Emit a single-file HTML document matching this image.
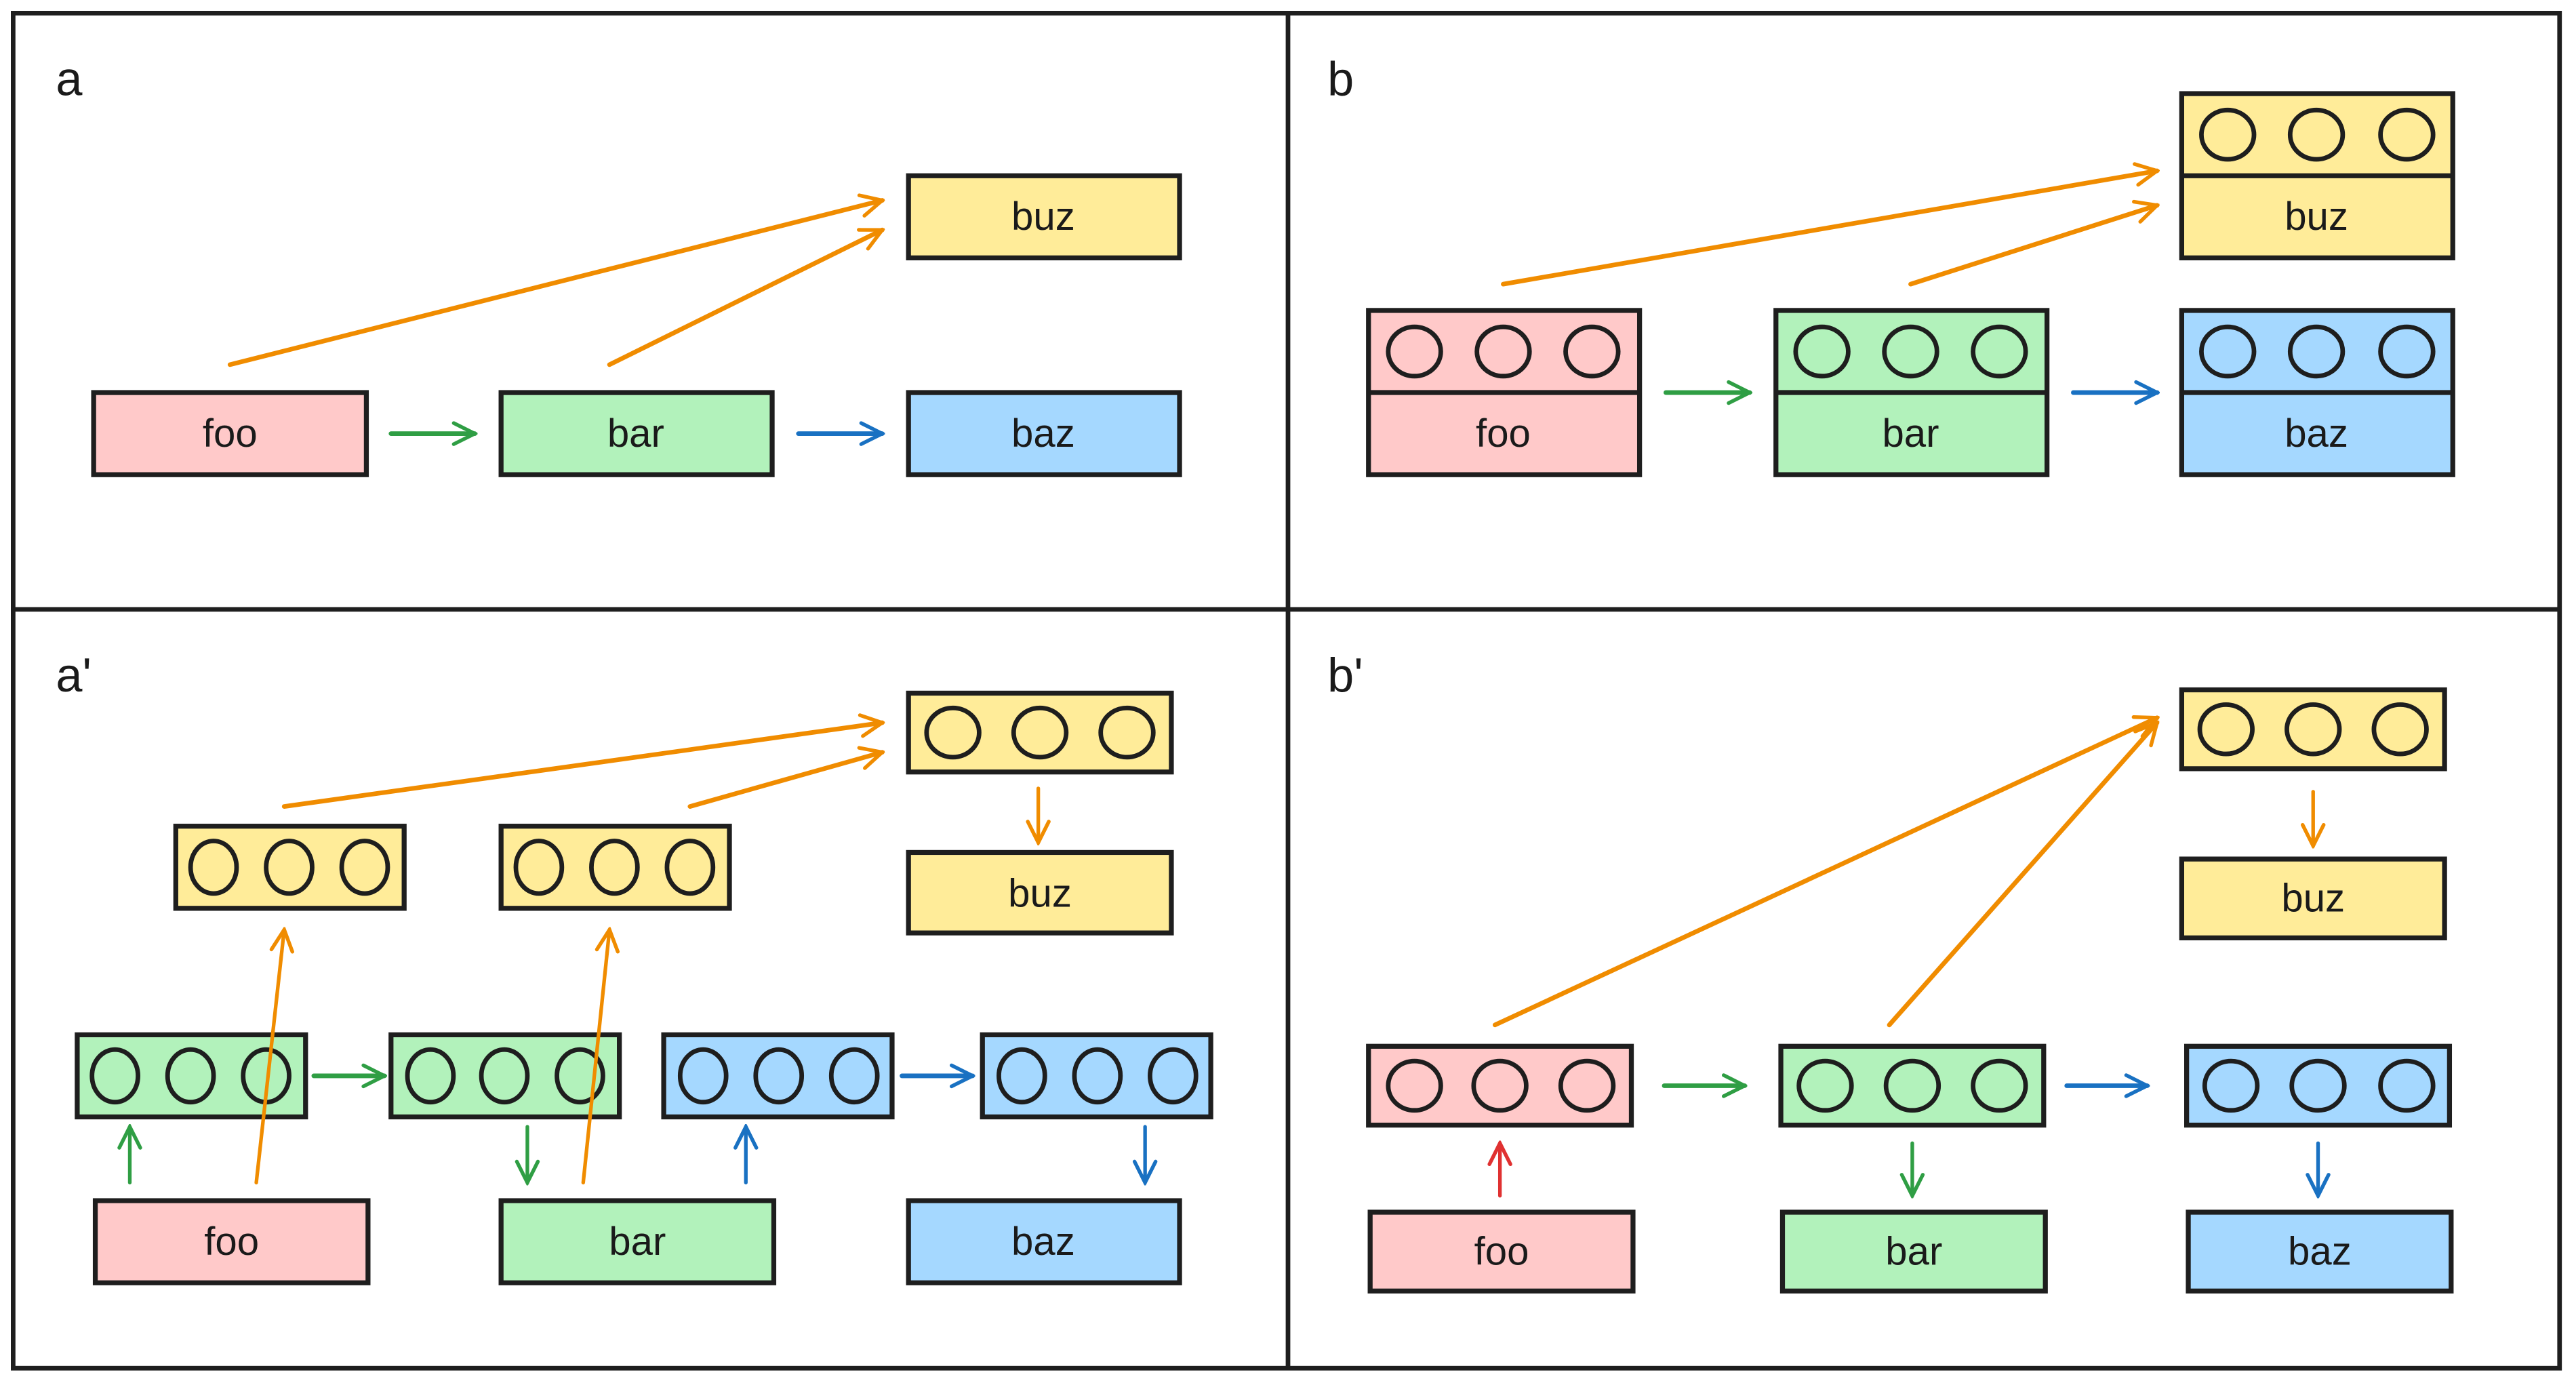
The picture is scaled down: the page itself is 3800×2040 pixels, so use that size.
<!DOCTYPE html>
<html><head><meta charset="utf-8"><style>
html,body{margin:0;padding:0;background:#fff;}
svg{display:block;}
text{font-family:"Liberation Sans","DejaVu Sans",sans-serif;fill:#1a1a1a;}
</style></head><body>
<svg width="3800" height="2040" viewBox="0 0 1568 842" preserveAspectRatio="none" xmlns="http://www.w3.org/2000/svg">
<defs>
<marker id="mo" viewBox="0 0 20 20" refX="18" refY="10" markerWidth="16" markerHeight="16" markerUnits="userSpaceOnUse" orient="auto"><path d="M2,2 L18,10 L2,18" fill="none" stroke="#f08c00" stroke-width="2.8" stroke-linecap="round"/></marker>
<marker id="mg" viewBox="0 0 20 20" refX="18" refY="10" markerWidth="16" markerHeight="16" markerUnits="userSpaceOnUse" orient="auto"><path d="M2,2 L18,10 L2,18" fill="none" stroke="#2f9e44" stroke-width="2.8" stroke-linecap="round"/></marker>
<marker id="mb" viewBox="0 0 20 20" refX="18" refY="10" markerWidth="16" markerHeight="16" markerUnits="userSpaceOnUse" orient="auto"><path d="M2,2 L18,10 L2,18" fill="none" stroke="#1971c2" stroke-width="2.8" stroke-linecap="round"/></marker>
<marker id="mr" viewBox="0 0 20 20" refX="18" refY="10" markerWidth="16" markerHeight="16" markerUnits="userSpaceOnUse" orient="auto"><path d="M2,2 L18,10 L2,18" fill="none" stroke="#e03131" stroke-width="2.8" stroke-linecap="round"/></marker>
</defs>
<rect width="1568" height="842" fill="#fff"/>
<g fill="none" stroke="#1e1e1e" stroke-width="2.8">
<rect x="8" y="8" width="1550" height="825"/>
<line x1="784" y1="8" x2="784" y2="833"/>
<line x1="8" y1="371" x2="1558" y2="371"/>
</g>
<g font-size="29"><text x="34" y="58">a</text><text x="808" y="58">b</text><text x="34" y="421">a'</text><text x="808" y="421">b'</text></g>

<g stroke="#1e1e1e" stroke-width="3">
<rect x="57" y="239" width="166" height="50" fill="#ffc9c9"/>
<rect x="305" y="239" width="165" height="50" fill="#b2f2bb"/>
<rect x="553" y="239" width="165" height="50" fill="#a5d8ff"/>
<rect x="553" y="107" width="165" height="50" fill="#ffec99"/>
<rect x="833" y="189" width="165" height="100" fill="#ffc9c9"/><line x1="833" y1="239" x2="998" y2="239"/>
<rect x="1081" y="189" width="165" height="100" fill="#b2f2bb"/><line x1="1081" y1="239" x2="1246" y2="239"/>
<rect x="1328" y="189" width="165" height="100" fill="#a5d8ff"/><line x1="1328" y1="239" x2="1493" y2="239"/>
<rect x="1328" y="57" width="165" height="100" fill="#ffec99"/><line x1="1328" y1="107" x2="1493" y2="107"/>
<rect x="107" y="503" width="139" height="50" fill="#ffec99"/>
<rect x="305" y="503" width="139" height="50" fill="#ffec99"/>
<rect x="553" y="422" width="160" height="48" fill="#ffec99"/>
<rect x="553" y="519" width="160" height="49" fill="#ffec99"/>
<rect x="47" y="630" width="139" height="50" fill="#b2f2bb"/>
<rect x="238" y="630" width="139" height="50" fill="#b2f2bb"/>
<rect x="404" y="630" width="139" height="50" fill="#a5d8ff"/>
<rect x="598" y="630" width="139" height="50" fill="#a5d8ff"/>
<rect x="58" y="731" width="166" height="50" fill="#ffc9c9"/>
<rect x="305" y="731" width="166" height="50" fill="#b2f2bb"/>
<rect x="553" y="731" width="165" height="50" fill="#a5d8ff"/>
<rect x="1328" y="420" width="160" height="48" fill="#ffec99"/>
<rect x="1328" y="523" width="160" height="48" fill="#ffec99"/>
<rect x="833" y="637" width="160" height="48" fill="#ffc9c9"/>
<rect x="1084" y="637" width="160" height="48" fill="#b2f2bb"/>
<rect x="1331" y="637" width="160" height="48" fill="#a5d8ff"/>
<rect x="834" y="738" width="160" height="48" fill="#ffc9c9"/>
<rect x="1085" y="738" width="160" height="48" fill="#b2f2bb"/>
<rect x="1332" y="738" width="160" height="48" fill="#a5d8ff"/>
</g>

<g fill="none" stroke="#1e1e1e" stroke-width="2.8">
<ellipse cx="861" cy="214" rx="16" ry="15"/><ellipse cx="915" cy="214" rx="16" ry="15"/><ellipse cx="969" cy="214" rx="16" ry="15"/>
<ellipse cx="1109" cy="214" rx="16" ry="15"/><ellipse cx="1163" cy="214" rx="16" ry="15"/><ellipse cx="1217" cy="214" rx="16" ry="15"/>
<ellipse cx="1356" cy="214" rx="16" ry="15"/><ellipse cx="1410" cy="214" rx="16" ry="15"/><ellipse cx="1465" cy="214" rx="16" ry="15"/>
<ellipse cx="1356" cy="82" rx="16" ry="15"/><ellipse cx="1410" cy="82" rx="16" ry="15"/><ellipse cx="1465" cy="82" rx="16" ry="15"/>
<ellipse cx="130" cy="528" rx="14" ry="16"/><ellipse cx="176" cy="528" rx="14" ry="16"/><ellipse cx="222" cy="528" rx="14" ry="16"/>
<ellipse cx="328" cy="528" rx="14" ry="16"/><ellipse cx="374" cy="528" rx="14" ry="16"/><ellipse cx="420" cy="528" rx="14" ry="16"/>
<ellipse cx="580" cy="446" rx="16" ry="15"/><ellipse cx="633" cy="446" rx="16" ry="15"/><ellipse cx="686" cy="446" rx="16" ry="15"/>
<ellipse cx="70" cy="655" rx="14" ry="16"/><ellipse cx="116" cy="655" rx="14" ry="16"/><ellipse cx="162" cy="655" rx="14" ry="16"/>
<ellipse cx="262" cy="655" rx="14" ry="16"/><ellipse cx="307" cy="655" rx="14" ry="16"/><ellipse cx="353" cy="655" rx="14" ry="16"/>
<ellipse cx="428" cy="655" rx="14" ry="16"/><ellipse cx="474" cy="655" rx="14" ry="16"/><ellipse cx="520" cy="655" rx="14" ry="16"/>
<ellipse cx="622" cy="655" rx="14" ry="16"/><ellipse cx="668" cy="655" rx="14" ry="16"/><ellipse cx="714" cy="655" rx="14" ry="16"/>
<ellipse cx="1355" cy="444" rx="16" ry="15"/><ellipse cx="1408" cy="444" rx="16" ry="15"/><ellipse cx="1461" cy="444" rx="16" ry="15"/>
<ellipse cx="861" cy="661" rx="16" ry="15"/><ellipse cx="913" cy="661" rx="16" ry="15"/><ellipse cx="966" cy="661" rx="16" ry="15"/>
<ellipse cx="1111" cy="661" rx="16" ry="15"/><ellipse cx="1164" cy="661" rx="16" ry="15"/><ellipse cx="1217" cy="661" rx="16" ry="15"/>
<ellipse cx="1358" cy="661" rx="16" ry="15"/><ellipse cx="1411" cy="661" rx="16" ry="15"/><ellipse cx="1465" cy="661" rx="16" ry="15"/>
</g>

<g font-size="24" text-anchor="middle">
<text x="140" y="272">foo</text><text x="387" y="272">bar</text><text x="635" y="272">baz</text><text x="635" y="140">buz</text>
<text x="915" y="272">foo</text><text x="1163" y="272">bar</text><text x="1410" y="272">baz</text><text x="1410" y="140">buz</text>
<text x="633" y="552">buz</text><text x="141" y="764">foo</text><text x="388" y="764">bar</text><text x="635" y="764">baz</text>
<text x="1408" y="555">buz</text><text x="914" y="770">foo</text><text x="1165" y="770">bar</text><text x="1412" y="770">baz</text>
</g>

<g fill="none" stroke-width="2.8" stroke-linecap="round">
<line x1="238" y1="264" x2="289" y2="264" stroke="#2f9e44" marker-end="url(#mg)"/>
<line x1="486" y1="264" x2="537" y2="264" stroke="#1971c2" marker-end="url(#mb)"/>
<line x1="140" y1="222" x2="537" y2="122" stroke="#f08c00" marker-end="url(#mo)"/>
<line x1="371" y1="222" x2="537" y2="140" stroke="#f08c00" marker-end="url(#mo)"/>
<line x1="1014" y1="239" x2="1065" y2="239" stroke="#2f9e44" marker-end="url(#mg)"/>
<line x1="1262" y1="239" x2="1313" y2="239" stroke="#1971c2" marker-end="url(#mb)"/>
<line x1="915" y1="173" x2="1313" y2="104" stroke="#f08c00" marker-end="url(#mo)"/>
<line x1="1163" y1="173" x2="1313" y2="125" stroke="#f08c00" marker-end="url(#mo)"/>
<line x1="173" y1="491" x2="537" y2="440" stroke="#f08c00" marker-end="url(#mo)"/>
<line x1="420" y1="491" x2="537" y2="458" stroke="#f08c00" marker-end="url(#mo)"/>
<line x1="632" y1="480" x2="632" y2="513" stroke="#f08c00" stroke-width="2.2" marker-end="url(#mo)"/>
<line x1="156" y1="720" x2="173" y2="566" stroke="#f08c00" stroke-width="2.2" marker-end="url(#mo)"/>
<line x1="355" y1="720" x2="371" y2="566" stroke="#f08c00" stroke-width="2.2" marker-end="url(#mo)"/>
<line x1="79" y1="720" x2="79" y2="686" stroke="#2f9e44" stroke-width="2.2" marker-end="url(#mg)"/>
<line x1="191" y1="655" x2="234" y2="655" stroke="#2f9e44" marker-end="url(#mg)"/>
<line x1="321" y1="686" x2="321" y2="720" stroke="#2f9e44" stroke-width="2.2" marker-end="url(#mg)"/>
<line x1="454" y1="720" x2="454" y2="686" stroke="#1971c2" stroke-width="2.2" marker-end="url(#mb)"/>
<line x1="549" y1="655" x2="592" y2="655" stroke="#1971c2" marker-end="url(#mb)"/>
<line x1="697" y1="686" x2="697" y2="720" stroke="#1971c2" stroke-width="2.2" marker-end="url(#mb)"/>
<line x1="910" y1="624" x2="1313" y2="437" stroke="#f08c00" marker-end="url(#mo)"/>
<line x1="1150" y1="624" x2="1313" y2="440" stroke="#f08c00" marker-end="url(#mo)"/>
<line x1="1408" y1="482" x2="1408" y2="515" stroke="#f08c00" stroke-width="2.2" marker-end="url(#mo)"/>
<line x1="913" y1="728" x2="913" y2="696" stroke="#e03131" stroke-width="2.2" marker-end="url(#mr)"/>
<line x1="1164" y1="696" x2="1164" y2="728" stroke="#2f9e44" stroke-width="2.2" marker-end="url(#mg)"/>
<line x1="1411" y1="696" x2="1411" y2="728" stroke="#1971c2" stroke-width="2.2" marker-end="url(#mb)"/>
<line x1="1013" y1="661" x2="1062" y2="661" stroke="#2f9e44" marker-end="url(#mg)"/>
<line x1="1258" y1="661" x2="1307" y2="661" stroke="#1971c2" marker-end="url(#mb)"/>
</g>
</svg>
</body></html>
